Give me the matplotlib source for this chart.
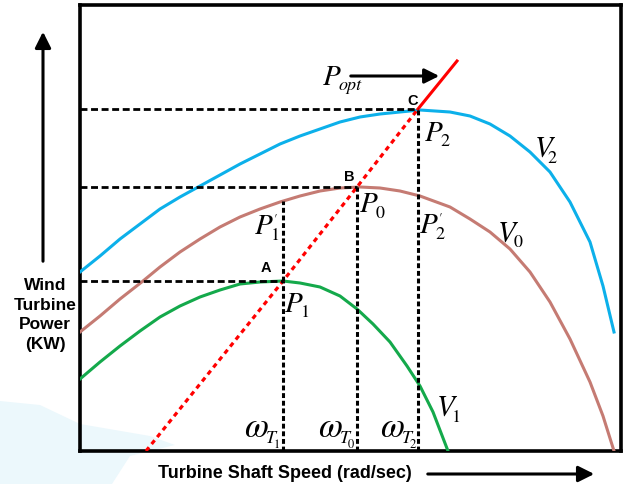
import matplotlib
matplotlib.use("Agg")
import matplotlib.pyplot as plt
from matplotlib.patches import Polygon

plt.rcParams["font.family"] = ["Liberation Sans", "DejaVu Sans"]

# power curves (speed, power in arbitrary units)
v2_speed = [0, 20, 40, 60, 80, 100, 120, 140, 160, 180, 200, 220, 240, 260, 280,
            300, 320, 340, 370, 390, 410, 430, 450, 470, 490, 510, 523, 534]
v2_power = [179, 195, 212, 227, 242, 254, 265, 276, 287, 297, 307, 315, 322, 329,
            334, 337, 339, 341, 339, 335, 327, 315, 299, 279, 249, 209, 165, 119]

v0_speed = [0, 20, 40, 63, 80, 100, 120, 140, 160, 180, 200, 220, 240, 260, 280,
            300, 320, 340, 370, 390, 410, 430, 450, 470, 490, 510, 523, 534]
v0_power = [119, 135, 152, 170, 184, 199, 212, 224, 234, 242, 249, 255, 260, 263,
            264, 263, 260, 255, 244, 232, 219, 202, 179, 149, 112, 69, 35, 0]

v1_speed = [0, 20, 40, 60, 80, 100, 120, 140, 160, 180, 203, 220, 240, 260, 277,
            293, 310, 327, 340, 353, 368]
v1_power = [72, 89, 105, 120, 134, 145, 154, 161, 167, 169, 170, 168, 164, 155, 142,
            127, 109, 85, 65, 39, 0]

# optimum power line
opt_speed = [66, 203, 277, 338, 377]
opt_power = [0, 170, 264, 342, 390]

# operating points A, B, C and the V0 point at wT1
op_names = ["A", "B", "C"]
op_speed = [203, 277, 338]
op_power = [170, 264, 342]
p1_dash_power = 250

# shaft speed labels under the operating points
omega_subs = ["1", "0", "2"]
omega_x = [164, 238, 300]

fig = plt.figure(figsize=(6.23, 4.85), dpi=100)
W, H = 623, 485
PX = 72 / 100  # points per pixel

# faint watermark in the lower-left corner
swoosh = [(0, 402), (40, 406), (80, 425), (150, 437), (175, 446), (130, 457),
          (112, 485), (0, 485)]
fig.patches.append(Polygon([(x / W, 1 - y / H) for x, y in swoosh], closed=True,
                           transform=fig.transFigure, facecolor="#ecf8fc",
                           edgecolor="none", zorder=-5))

ax = fig.add_axes([80 / W, 33 / H, 541 / W, 446 / H])
ax.set_facecolor("none")
ax.set_zorder(2)
ax.set_xlim(0, 541)
ax.set_ylim(0, 446)
ax.set_xticks([])
ax.set_yticks([])
for s in ax.spines.values():
    s.set_linewidth(2.6)
    s.set_color("black")

ax.plot(v2_speed, v2_power, color="#0cb0ea", lw=2.2, zorder=3)
ax.plot(v0_speed, v0_power, color="#c57b73", lw=2.2, zorder=3)
ax.plot(v1_speed, v1_power, color="#14a94b", lw=2.2, zorder=3)

ax.plot(opt_speed[:4], opt_power[:4], color="red", lw=2.3,
        linestyle=(0, (1.5, 1.3)), zorder=4)
ax.plot(opt_speed[3:], opt_power[3:], color="red", lw=2.2, zorder=4)

# guide lines to the axes
for sp, pw in zip(op_speed, op_power):
    ax.plot([0, sp], [pw, pw], color="black", lw=2.0,
            linestyle=(0, (2.5, 1.3)), zorder=5)
    ax.plot([sp, sp], [0, pw], color="black", lw=2.2,
            linestyle=(0, (1.6, 0.9)), zorder=5)
ax.plot([op_speed[0], op_speed[0]], [op_power[0], p1_dash_power], color="black",
        lw=2.2, linestyle=(0, (1.6, 0.9)), zorder=5)

for name, sp, pw, dx, dy in zip(op_names, op_speed, op_power,
                                [-17, -8, -5], [14, 11, 9]):
    ax.text(sp + dx, pw + dy, name, fontsize=10.5, fontweight="bold",
            ha="center", va="center")

renderer = fig.canvas.get_renderer()


def sym(x, y, main, parts, size=21, kern=2):
    # main letter in italic serif; the small pieces start at its right edge
    t = ax.text(x, y, main, fontsize=size, family="STIXGeneral", style="italic",
                ha="left", va="baseline", zorder=6)
    right = t.get_window_extent(renderer).width - kern
    for txt, dx, dy, fs, st in parts:
        ax.annotate(txt, xy=(x, y), xytext=((right + dx) * PX, dy * PX),
                    textcoords="offset points", fontsize=fs,
                    family="STIXGeneral", style=st, ha="left",
                    va="baseline", zorder=6)


sym(345, 311, "P", [("2", 0, -5, 13, "normal")])
sym(280, 240, "P", [("0", 0, -6, 13, "normal")])
sym(205, 140, "P", [("1", 0, -5, 13, "normal")])
sym(175, 218, "P", [("1", 0, -6, 13, "normal"), ("\u2032", 2, 12, 9, "normal")])
sym(340, 219, "P", [("2", 0, -6, 13, "normal"), ("\u2032", 2, 12, 9, "normal")])
sym(455, 296, "V", [("2", -2, -7, 13, "normal")], kern=3)
sym(418, 211, "V", [("0", 0, -6, 13, "normal")])
sym(357, 37, "V", [("1", 0, -7, 13, "normal")], kern=3)
for x0, sub in zip(omega_x, omega_subs):
    sym(x0, 15, "\u03c9", [("T", 0, -6, 13, "italic"), (sub, 8, -11, 9, "normal")],
        size=25)
sym(243, 367, "P", [("opt", 0, -5, 13, "italic")])
ax.annotate("", xy=(362, 375), xytext=(268, 375),
            arrowprops=dict(arrowstyle="-|>", color="black", lw=2.2,
                            mutation_scale=22))

# axis titles with arrows outside the box
fig.text(45 / W, 1 - 315 / H, "Wind\nTurbine\nPower\n(KW)", fontsize=12.5,
         fontweight="bold", ha="center", va="center", linespacing=1.38)
fig.text(285 / W, 1 - 474 / H, "Turbine Shaft Speed (rad/sec)", fontsize=13,
         fontweight="bold", ha="center", va="center")
ax.annotate("", xy=(43 / W, 1 - 30 / H), xytext=(43 / W, 1 - 265 / H),
            xycoords="figure fraction", textcoords="figure fraction",
            arrowprops=dict(arrowstyle="-|>", color="black", lw=2.2,
                            mutation_scale=24), annotation_clip=False)
ax.annotate("", xy=(597 / W, 1 - 475 / H), xytext=(425 / W, 1 - 475 / H),
            xycoords="figure fraction", textcoords="figure fraction",
            arrowprops=dict(arrowstyle="-|>", color="black", lw=2.2,
                            mutation_scale=24), annotation_clip=False)

fig.savefig("out.png", dpi=100)
